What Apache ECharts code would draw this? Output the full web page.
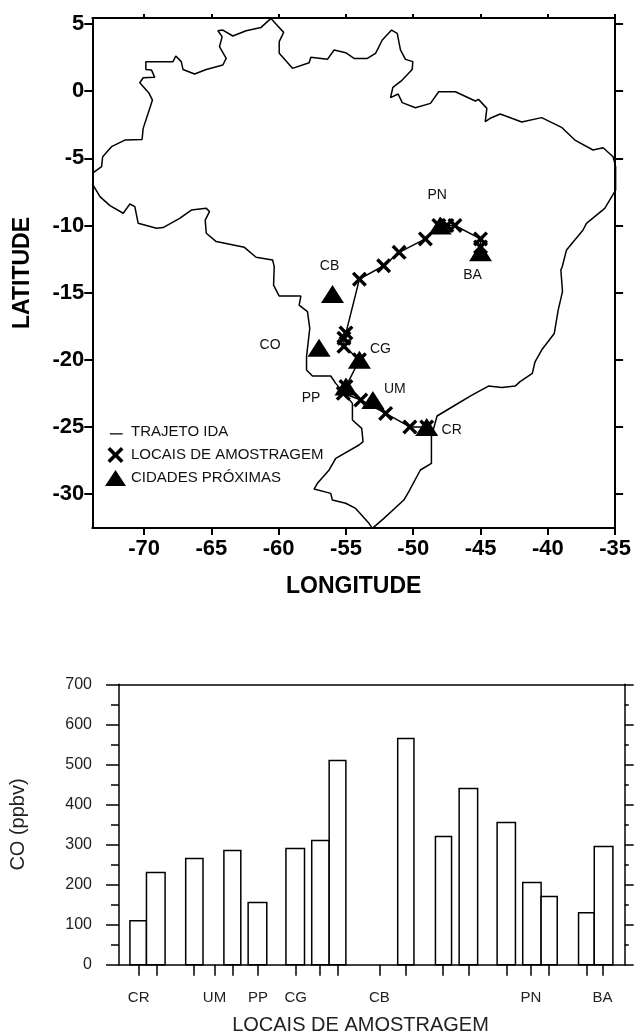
<!DOCTYPE html>
<html>
<head>
<meta charset="utf-8">
<style>html,body{margin:0;padding:0;background:#fff}#c{width:634px;height:1033px}</style>
<script src="https://cdn.jsdelivr.net/npm/echarts@6/dist/echarts.min.js"></script>
</head>
<body>
<div id="c"></div>
<script>
// Brazil outline, traced clockwise from the western edge [lon, lat]
const brazilOutline = [
[-73.85,-6.12],[-73.16,-5.62],[-73.08,-4.88],[-72.42,-4.13],[-71.43,-3.64],[-70.15,-3.59],[-70.07,-2.77],[-69.70,-1.65],[-69.38,-0.66],[-69.63,-0.16],[-70.32,0.63],[-70.07,1.0],[-69.21,1.03],[-69.45,1.57],[-69.87,1.62],[-69.87,2.2],[-67.85,2.2],[-67.65,2.62],[-67.24,2.2],[-67.11,1.62],[-66.25,1.28],[-65.38,1.62],[-64.15,1.95],[-63.9,2.44],[-64.4,3.31],[-64.2,4.06],[-64.52,4.5],[-64.15,4.55],[-63.41,4.11],[-62.42,4.5],[-61.31,4.75],[-60.57,5.42],[-60.2,5.0],[-59.63,4.38],[-59.96,3.69],[-59.96,2.82],[-58.97,1.70],[-57.74,2.12],[-57.61,2.52],[-56.38,2.37],[-55.88,3.07],[-55.02,2.87],[-54.4,2.44],[-53.41,2.44],[-52.8,2.82],[-52.3,3.81],[-51.61,4.55],[-51.19,4.31],[-50.95,3.07],[-50.58,2.37],[-50.03,2.2],[-50.08,1.62],[-50.82,0.83],[-51.51,0.29],[-51.69,-0.48],[-51.12,-0.21],[-50.82,-0.85],[-49.84,-1.23],[-48.72,-0.91],[-48.11,-0.04],[-46.87,-0.04],[-45.39,-0.73],[-45.15,-0.61],[-44.53,-1.28],[-44.65,-2.27],[-44.28,-2.02],[-43.54,-1.70],[-42.68,-2.02],[-41.94,-2.29],[-40.46,-1.97],[-38.98,-2.69],[-37.99,-3.64],[-36.64,-4.38],[-35.89,-4.21],[-35.15,-4.88],[-34.96,-5.62],[-34.96,-7.36],[-35.77,-8.73],[-37.13,-9.84],[-37.38,-10.34],[-38.61,-11.82],[-38.93,-13.07],[-39.03,-13.32],[-38.91,-14.93],[-39.23,-16.3],[-39.52,-18.04],[-40.46,-19.28],[-40.95,-20.15],[-41.15,-21.01],[-42.06,-21.63],[-42.43,-21.96],[-43.42,-22.06],[-44.41,-21.96],[-45.64,-22.63],[-46.87,-23.37],[-48.23,-24.19],[-48.4,-24.8],[-48.65,-25.73],[-48.65,-27.72],[-49.47,-28.21],[-50.33,-29.82],[-50.7,-30.45],[-52.18,-31.81],[-53.04,-32.56],[-53.29,-32.18],[-54.28,-31.07],[-55.02,-30.69],[-56.01,-30.45],[-56.13,-29.95],[-57.37,-29.63],[-57.12,-29.2],[-56.25,-28.21],[-55.76,-27.34],[-54.03,-26.35],[-53.73,-26.1],[-53.83,-25.11],[-54.52,-24.49],[-54.52,-23.25],[-54.9,-22.8],[-55.76,-21.76],[-56.13,-21.21],[-57.49,-21.21],[-57.93,-20.77],[-57.93,-19.77],[-57.69,-17.66],[-57.86,-16.42],[-58.48,-15.93],[-58.35,-15.26],[-59.96,-15.26],[-60.38,-14.44],[-60.33,-13.07],[-60.45,-12.57],[-61.68,-12.37],[-62.55,-11.63],[-64.64,-11.2],[-65.38,-10.58],[-65.46,-9.6],[-65.14,-8.97],[-65.38,-8.72],[-66.49,-8.85],[-67.36,-9.47],[-68.59,-10.16],[-69.08,-10.21],[-70.44,-9.84],[-70.69,-8.6],[-71.06,-8.4],[-71.55,-9.09],[-72.54,-8.52],[-73.28,-7.85],[-73.85,-6.91]
];
// Sampling sites along the outbound route [lon, lat]
const samplingSites = [
[-49,-25],[-50.25,-25],[-52.05,-24],[-53.9,-23],[-55.2,-22.5],[-55,-22],[-54,-20],[-55.15,-19],[-55.15,-18.4],[-55,-18],[-54,-14],[-52.2,-13],[-51.05,-12],[-49.1,-11],[-48.1,-10],[-47.5,-10],[-46.9,-10],[-45,-11],[-45,-11.6]
];
// Nearby cities
const cityNames = ['CR','UM','PP','CG','CO','CB','PN','BA'];
const cityLon = [-49,-53,-55,-54,-57,-56,-48,-45];
const cityLat = [-25,-23,-22,-20,-19.1,-15.1,-10,-12];
const lonTicks = [-70,-65,-60,-55,-50,-45,-40,-35];
const latTicks = [5,0,-5,-10,-15,-20,-25,-30];

const sitePositions = [3.3,6.3,12.6,16,19,23.3,29.6,33.6,36.6,43.6,48,54.3,58.6,65,69,72,78.3,81];
const siteLabels = {3.3:'CR',16:'UM',23.3:'PP',29.6:'CG',43.6:'CB',69:'PN',81:'BA'};
const barStart = [1.83,4.6,11.17,17.57,21.63,27.96,32.28,35.2,46.68,53.0,56.97,63.33,67.62,70.7,76.97,79.6];
const barEnd   = [4.6,7.72,14.07,20.4,24.75,31.07,35.2,38.0,49.4,55.7,60.07,66.4,70.7,73.4,79.6,82.72];
const coValues = [110,230,265,285,155,290,310,510,565,320,440,355,205,170,130,295];

const LAT_MIN=-32.53, LAT_MAX=5.45, LON_MIN=-73.85, LON_MAX=-35;
const X_MAX=84.7;
const xSym='path://M1.6 0L5 3.4L8.4 0L10 1.6L6.6 5L10 8.4L8.4 10L5 6.6L1.6 10L0 8.4L3.4 5L0 1.6Z';
const lineIcon='path://M0 0h.01v.01h-.01zM2 11.5h16v1.6h-16zM0 19.99h.01v.01h-.01z';
const INK='#000';
const FONT='Liberation Sans';

const cityLabelOffset=[[25,3],[22,-11],[-35,12],[21,-11],[-49,-3],[-3,-28],[-3,-30],[-8,23]];

const mapAxisX=(pos,labels)=>({
  type:'value',gridIndex:0,position:pos,min:LON_MIN,max:LON_MAX,
  axisLine:{onZero:false,lineStyle:{color:INK,width:2}},
  axisTick:{show:true,customValues:lonTicks,length:pos==='bottom'?7:4,lineStyle:{color:INK,width:2}},
  axisLabel:{show:labels,customValues:lonTicks,margin:10,color:INK,fontFamily:FONT,fontWeight:'bold',fontSize:22},
  splitLine:{show:false}
});
const mapAxisY=(pos,labels)=>({
  type:'value',gridIndex:0,position:pos,min:LAT_MIN,max:LAT_MAX,
  axisLine:{onZero:false,lineStyle:{color:INK,width:2}},
  axisTick:{show:true,customValues:latTicks,length:8,lineStyle:{color:INK,width:2}},
  axisLabel:{show:labels,customValues:latTicks,margin:8,color:INK,fontFamily:FONT,fontWeight:'bold',fontSize:22},
  splitLine:{show:false}
});

const option={
  animation:false,
  backgroundColor:'#fff',
  grid:[
    {left:92.3,right:16.3,top:18,height:510},
    {left:116.3,right:9.3,top:684.3,height:280.4}
  ],
  xAxis:[
    Object.assign(mapAxisX('bottom',true),{name:'LONGITUDE',nameLocation:'middle',nameGap:59,
      nameTextStyle:{color:INK,fontFamily:FONT,fontWeight:'bold',fontSize:23,verticalAlign:'middle'}}),
    mapAxisX('top',false),
    {type:'value',gridIndex:1,position:'bottom',min:0,max:X_MAX,
      axisLine:{onZero:false,lineStyle:{color:INK,width:1.5}},
      axisTick:{show:true,customValues:sitePositions,length:11,lineStyle:{color:INK,width:1.5}},
      axisLabel:{show:true,customValues:Object.keys(siteLabels).map(Number),margin:26,color:'#222',fontFamily:FONT,fontSize:15,
        formatter:v=>siteLabels[v]||''},
      splitLine:{show:false}},
    {type:'value',gridIndex:1,position:'top',min:0,max:X_MAX,
      axisLine:{onZero:false,lineStyle:{color:INK,width:1.5}},axisTick:{show:false},axisLabel:{show:false},splitLine:{show:false}}
  ],
  yAxis:[
    Object.assign(mapAxisY('left',true),{name:'LATITUDE',nameLocation:'middle',nameGap:70,
      nameTextStyle:{color:INK,fontFamily:FONT,fontWeight:'bold',fontSize:23,verticalAlign:'middle'}}),
    mapAxisY('right',false),
    {type:'value',gridIndex:1,position:'left',min:0,max:700,interval:100,
      name:'CO (ppbv)',nameLocation:'middle',nameGap:101,
      nameTextStyle:{color:'#222',fontFamily:FONT,fontSize:20,verticalAlign:'middle'},
      axisLine:{onZero:false,lineStyle:{color:INK,width:1.5}},
      axisTick:{show:true,length:13,lineStyle:{color:INK,width:1.5}},
      minorTick:{show:true,splitNumber:2,length:8,lineStyle:{color:INK,width:1.5}},
      axisLabel:{margin:27,color:'#222',fontFamily:FONT,fontSize:16},
      splitLine:{show:false},minorSplitLine:{show:false}},
    {type:'value',gridIndex:1,position:'right',min:0,max:700,interval:100,
      axisLine:{onZero:false,lineStyle:{color:INK,width:1.5}},
      axisTick:{show:true,length:9,lineStyle:{color:INK,width:1.5}},
      minorTick:{show:true,splitNumber:2,length:4,lineStyle:{color:INK,width:1.5}},
      axisLabel:{show:false},splitLine:{show:false},minorSplitLine:{show:false}}
  ],
  legend:{
    left:100,top:419,orient:'vertical',itemWidth:21,itemHeight:16,itemGap:7,
    textStyle:{color:'#111',fontFamily:FONT,fontSize:15},
    data:[
      {name:'TRAJETO IDA',icon:lineIcon,itemStyle:{color:INK,borderWidth:0}},
      {name:'LOCAIS DE AMOSTRAGEM',icon:xSym,itemStyle:{color:INK,opacity:1}},
      {name:'CIDADES PRÓXIMAS',icon:'triangle',itemStyle:{color:INK,opacity:1}}
    ]
  },
  graphic:[{type:'text',x:360.5,y:1025,
    style:{text:'LOCAIS DE AMOSTRAGEM',fill:'#222',align:'center',verticalAlign:'middle',font:'20px "Liberation Sans"'}}],
  series:[
    {type:'line',xAxisIndex:0,yAxisIndex:0,data:brazilOutline,showSymbol:false,symbol:'none',silent:true,
      lineStyle:{color:INK,width:1.5},z:2},
    {name:'TRAJETO IDA',type:'line',xAxisIndex:0,yAxisIndex:0,data:samplingSites,symbol:'none',
      itemStyle:{color:INK},lineStyle:{color:INK,width:1.5},z:3},
    {name:'LOCAIS DE AMOSTRAGEM',type:'scatter',xAxisIndex:0,yAxisIndex:0,data:samplingSites,
      symbol:xSym,symbolSize:15,itemStyle:{color:INK,opacity:1},z:4},
    {name:'CIDADES PRÓXIMAS',type:'scatter',xAxisIndex:0,yAxisIndex:0,
      data:cityLon.map((lon,i)=>({value:[lon,cityLat[i]],name:cityNames[i],
        label:{offset:cityLabelOffset[i]}})),
      symbol:'triangle',symbolSize:[23,18],itemStyle:{color:INK,opacity:1},z:5,
      label:{show:true,position:'inside',formatter:'{b}',color:'#111',fontFamily:FONT,fontSize:14}},
    {type:'custom',xAxisIndex:2,yAxisIndex:2,clip:false,silent:true,
      data:coValues.map((v,i)=>[barStart[i],barEnd[i],v]),
      encode:{x:[0,1],y:2},
      renderItem:(params,api)=>{
        const p0=api.coord([api.value(0),0]);
        const p1=api.coord([api.value(1),api.value(2)]);
        return {type:'rect',shape:{x:p0[0],y:p1[1],width:p1[0]-p0[0],height:p0[1]-p1[1]},
          style:{fill:'#fff',stroke:INK,lineWidth:1.5}};
      },z:3}
  ]
};
const chart=echarts.init(document.getElementById('c'),null,{renderer:'canvas',width:634,height:1033});
chart.setOption(option);
</script>
</body>
</html>
